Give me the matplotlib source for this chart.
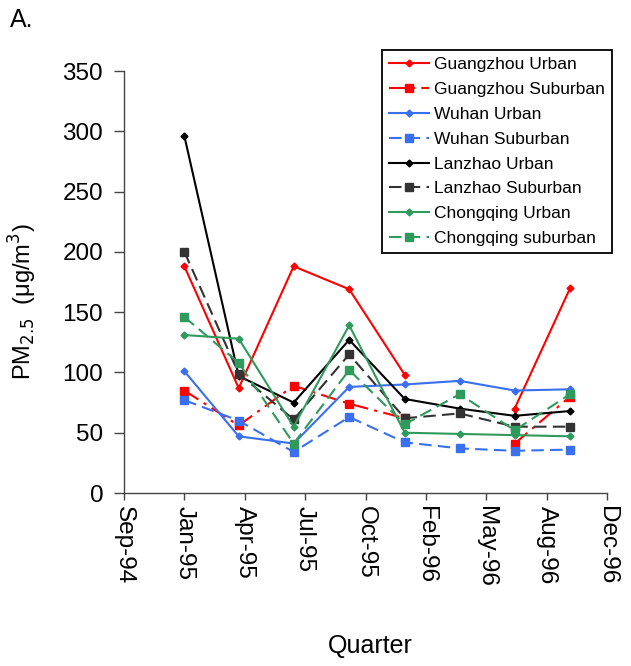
import numpy as np
import matplotlib
matplotlib.use('Agg')
import matplotlib.pyplot as plt
import matplotlib.dates as mdates
import datetime as dt

plt.rcParams['font.family'] = ['Liberation Sans', 'DejaVu Sans']

# quarterly sampling dates
quarters = [dt.date(1995, 1, 1), dt.date(1995, 4, 1), dt.date(1995, 7, 1), dt.date(1995, 10, 1),
            dt.date(1996, 1, 1), dt.date(1996, 4, 1), dt.date(1996, 7, 1), dt.date(1996, 10, 1)]

# PM2.5 values (ug/m3), nan = missing
guangzhou_urban = [188, 87, 188, 169, 98, np.nan, 70, 170]
guangzhou_suburban = [85, 56, 89, 74, 62, np.nan, 41, 80]
wuhan_urban = [101, 47, 41, 88, 90, 93, 85, 86]
wuhan_suburban = [77, 60, 34, 63, 42, 37, 35, 36]
lanzhao_urban = [296, 97, 75, 127, 78, 70, 64, 68]
lanzhao_suburban = [200, 99, 61, 115, 62, 66, 55, 55]
chongqing_urban = [131, 128, 55, 139, 50, 49, 48, 47]
chongqing_suburban = [146, 108, 41, 102, 57, 82, 52, 82]

tick_labels = ['Sep-94', 'Jan-95', 'Apr-95', 'Jul-95', 'Oct-95', 'Feb-96', 'May-96', 'Aug-96', 'Dec-96']

red = '#ff0000'
blue = '#3a6ff0'
black = '#000000'
grey = '#333333'
green = '#2e9a5c'
dash = (0, (6, 3))
dashdot = (0, (8, 3, 1.5, 3))

series = [
    ('Guangzhou Urban', guangzhou_urban, red, '-', 'D', 3.5),
    ('Guangzhou Suburban', guangzhou_suburban, red, dashdot, 's', 6),
    ('Wuhan Urban', wuhan_urban, blue, '-', 'D', 3.5),
    ('Wuhan Suburban', wuhan_suburban, blue, dash, 's', 6),
    ('Lanzhao Urban', lanzhao_urban, black, '-', 'D', 3.5),
    ('Lanzhao Suburban', lanzhao_suburban, grey, dash, 's', 6),
    ('Chongqing Urban', chongqing_urban, green, '-', 'D', 3.5),
    ('Chongqing suburban', chongqing_suburban, green, dash, 's', 6),
]

W, H = 631, 666
fig = plt.figure(figsize=(W / 100, H / 100), dpi=100)
ax = fig.add_axes([124 / W, 1 - 493 / H, 483 / W, 422 / H])

x = mdates.date2num(quarters)
for name, vals, col, ls, mk, ms in series:
    ax.plot(x, vals, color=col, linestyle=ls, marker=mk, markersize=ms, linewidth=1.5, label=name)

# date axis with 100-day major unit starting Sep-94
start = dt.date(1995, 1, 1) - dt.timedelta(days=100)
ticks = [mdates.date2num(start + dt.timedelta(days=100 * k)) for k in range(9)]
ax.set_xlim(ticks[0], ticks[-1])
ax.set_xticks(ticks)
ax.set_xticklabels(tick_labels, rotation=270, fontsize=17.5)
ax.set_ylim(0, 350)
ax.set_yticks(range(0, 351, 50))
ax.tick_params(axis='y', labelsize=17.5, direction='out', length=7, width=1, color='#444444', pad=8)
ax.tick_params(axis='x', direction='out', length=5, width=1, color='#444444', pad=4)

for s in ['top', 'right']:
    ax.spines[s].set_visible(False)
for s in ['left', 'bottom']:
    ax.spines[s].set_color('#444444')
    ax.spines[s].set_linewidth(1)

fig.text(370 / W, 1 - 646 / H, 'Quarter', fontsize=18, ha='center', va='center')
fig.text(7 / W, 1 - 302 / H, r'PM$_{2.5}$  (μg/m$^3$)', fontsize=17, rotation=90,
         ha='left', va='center')

lgd = ax.legend(loc='upper right', bbox_to_anchor=(612 / W, 1 - 50 / H), bbox_transform=fig.transFigure,
                borderaxespad=0, fontsize=12.5, handlelength=2.3, labelspacing=0.56,
                fancybox=False, framealpha=1, edgecolor='black', borderpad=0.4, handletextpad=0.3)
lgd.get_frame().set_linewidth(1.3)

fig.text(0.016, 0.988, 'A.', fontsize=18, va='top')

fig.savefig('out.png', dpi=100)
